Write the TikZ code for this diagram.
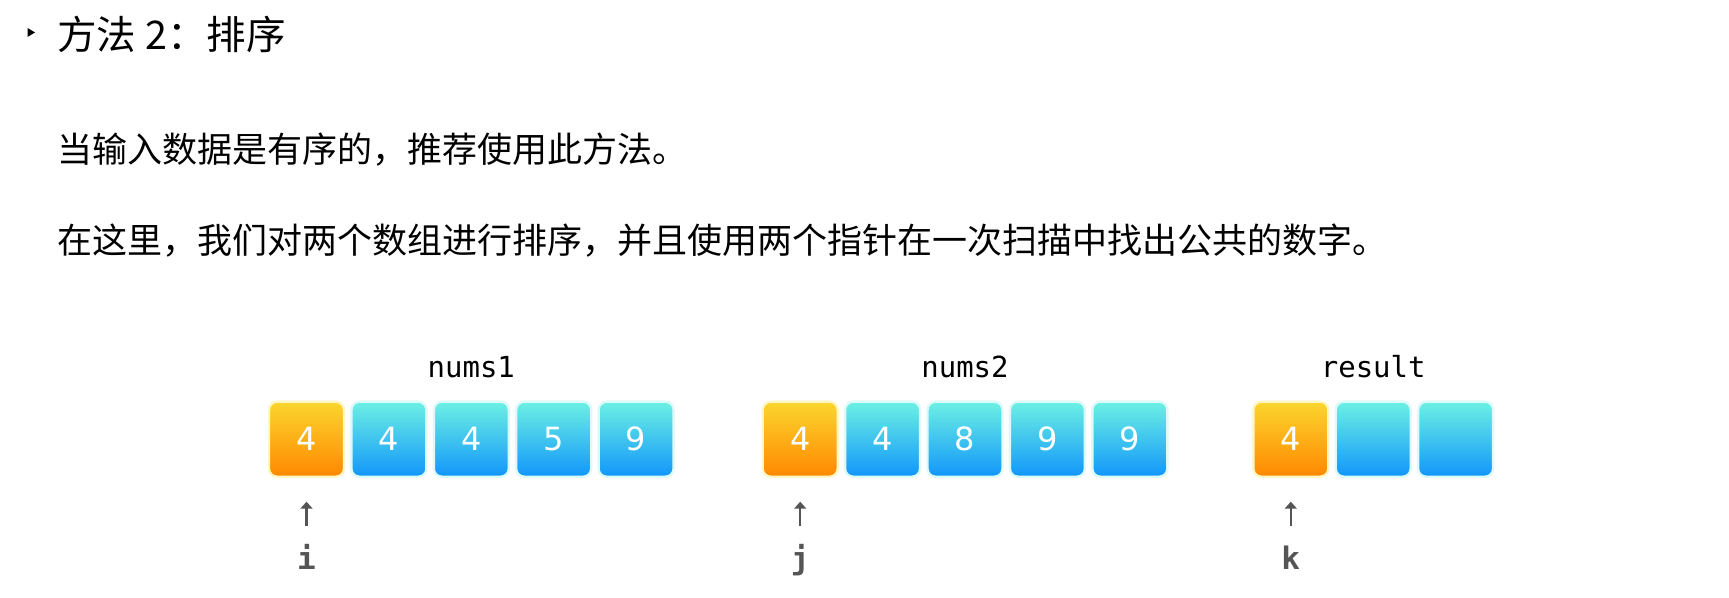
\documentclass[tikz,border=0pt]{standalone}
\usepackage{fontspec}
\newfontfamily\cjkfont{Noto Sans CJK SC}
\newfontfamily\codefont{DejaVu Sans Mono}
\newfontfamily\numfont{DejaVu Sans}
\usetikzlibrary{positioning,arrows.meta}

\definecolor{orangetop}{RGB}{251,214,46}
\definecolor{orangebot}{RGB}{255,136,0}
\definecolor{orangeglow}{RGB}{255,246,200}
\definecolor{bluetop}{RGB}{108,241,228}
\definecolor{bluebot}{RGB}{18,150,250}
\definecolor{blueglow}{RGB}{220,250,248}
\definecolor{pointergray}{RGB}{85,85,85}

\begin{document}
\begin{tikzpicture}[
  x=0.5pt, y=-0.5pt,
  node distance = 3.7pt and 3.7pt,
  cell/.style={
    rounded corners=4pt,
    minimum width=37.5pt,
    minimum height=37.5pt,
    inner sep=0pt,
    outer sep=0pt,
    line width=1.2pt,
    text=white,
    font=\numfont\fontsize{16pt}{16pt}\selectfont,
  },
  hit cell/.style={
    cell,
    draw=orangeglow,
    top color=orangetop,
    bottom color=orangebot,
  },
  plain cell/.style={
    cell,
    draw=blueglow,
    top color=bluetop,
    bottom color=bluebot,
  },
  array label/.style={
    inner sep=0pt,
    text height=10pt,
    text depth=0pt,
    font=\codefont\fontsize{14.5pt}{14.5pt}\selectfont,
  },
  pointer label/.style={
    inner sep=0pt,
    text height=12pt,
    text depth=0pt,
    text=pointergray,
    font=\codefont\bfseries\fontsize{15.5pt}{15.5pt}\selectfont,
  },
  pointer/.style={
    draw=pointergray,
    line width=1.1pt,
    -{Triangle[length=3.5pt,width=6pt]},
    shorten <=9.5pt,
    shorten >=12.5pt,
  },
  prose/.style={
    inner sep=0pt,
    anchor=west,
    font=\cjkfont\fontsize{17.5pt}{20pt}\selectfont,
  },
  ]
  \useasboundingbox (0,0) rectangle (1729,598);

  % heading and text
  \fill (27.5,28) -- (35,32.5) -- (27.5,37) -- cycle;
  \node[prose,font=\cjkfont\fontsize{19.75pt}{22pt}\selectfont] (title)
  at (57,34) {方法 2：排序};
  \node[prose] (line1) at (57,150) {当输入数据是有序的，推荐使用此方法。};
  \node[prose] (line2) at (57,240.5)
  {在这里，我们对两个数组进行排序，并且使用两个指针在一次扫描中找出公共的数字。};

  % nums1
  \node[hit cell] (a1) at (306.5,439.2) {4};
  \node[plain cell,right=of a1] (a2) {4};
  \node[plain cell,right=of a2] (a3) {4};
  \node[plain cell,right=of a3] (a4) {5};
  \node[plain cell,right=of a4] (a5) {9};

  % nums2
  \node[hit cell] (b1) at (800.2,439.2) {4};
  \node[plain cell,right=of b1] (b2) {4};
  \node[plain cell,right=of b2] (b3) {8};
  \node[plain cell,right=of b3] (b4) {9};
  \node[plain cell,right=of b4] (b5) {9};

  % result
  \node[hit cell] (c1) at (1290.8,439.2) {4};
  \node[plain cell,right=of c1] (c2) {};
  \node[plain cell,right=of c2] (c3) {};

  \node[array label,above=11.85pt of a3] (la) {nums1};
  \node[array label,above=11.85pt of b3] (lb) {nums2};
  \node[array label,above=11.85pt of c2] (lc) {result};

  \node[pointer label,below=34.15pt of a1] (pi) {i};
  \node[pointer label,below=34.15pt of b1] (pj) {j};
  \node[pointer label,below=34.15pt of c1] (pk) {k};

  \draw[pointer] (pi.north) -- (a1.south);
  \draw[pointer] (pj.north) -- (b1.south);
  \draw[pointer] (pk.north) -- (c1.south);
\end{tikzpicture}
\end{document}
